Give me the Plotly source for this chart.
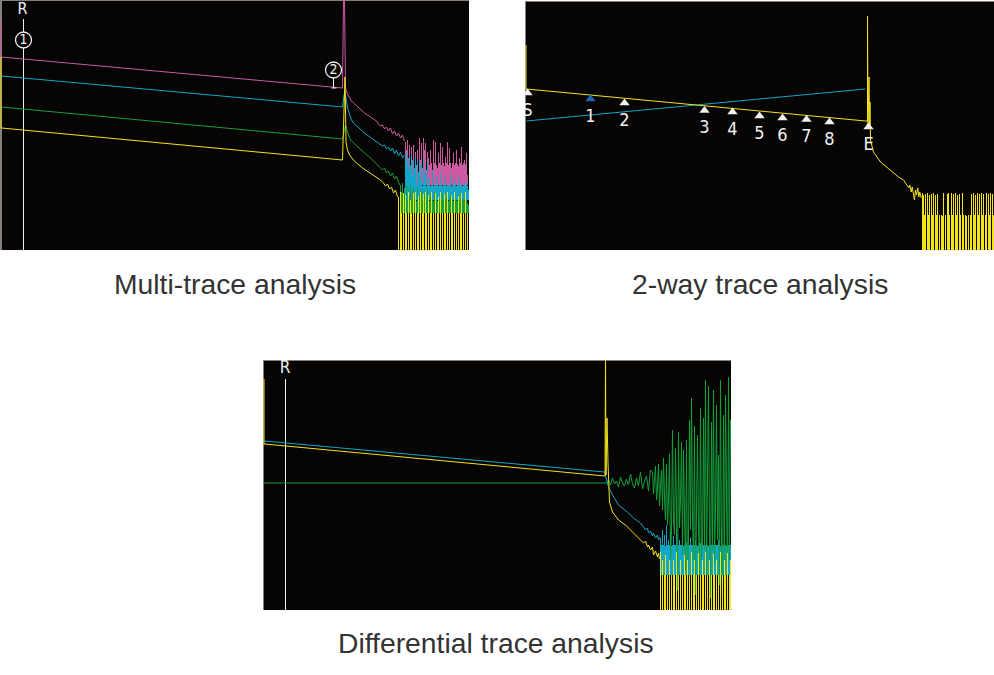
import plotly.graph_objects as go

# ---------------- colours ----------------
BG = "#070404"
PINK = "#cc5aa0"
CYAN = "#12a6c8"
GREEN = "#14a03c"
YELLOW = "#f2e41c"
WHITE = "#f0f0f0"
BLUE = "#1e64b4"
GRAY = "#85807a"
CAPTION = "#333333"
LBL_FONT = "Liberation Sans Narrow, DejaVu Sans Condensed, Arial Narrow, sans-serif"

# ================= Panel 1 : Multi-trace analysis =================
# x = distance (sample), y = level (screen units, increasing downward)
p1_pink_x = [0.5, 0.5, 1, 342, 343, 344, 345, 347, 349, 351, 353, 355, 358, 361, 364, 367, 370, 373, 376, 378, 380, 382, 384, 386, 388, 390, 392, 394, 396, 398, 400, 402, 404]
p1_pink_y = [19, 57, 57, 88, 0, 0, 88, 94, 98, 101, 103, 105, 108, 111, 113, 115, 117, 119, 121, 124, 126, 125, 129, 127, 131, 128, 134, 131, 136, 133, 138, 135, 141]
p1_cyan_x = [1, 342, 344, 345, 347, 349, 351, 353, 356, 359, 362, 365, 368, 371, 374, 377, 380, 382, 384, 386, 388, 390, 392, 394, 396, 398, 400, 402, 404]
p1_cyan_y = [76, 107, 92, 95, 108, 115, 120, 123, 126, 129, 131, 134, 136, 138, 140, 142, 144, 146, 145, 149, 147, 151, 148, 154, 150, 156, 152, 158, 155]
p1_green_x = [1, 342, 345, 347, 349, 351, 353, 356, 359, 362, 365, 368, 371, 374, 377, 380, 382, 384, 386, 388, 390, 392, 394, 396, 398, 399]
p1_green_y = [107, 139, 125, 133, 138, 141, 143, 146, 149, 152, 154, 156, 159, 161, 164, 167, 170, 168, 173, 171, 176, 173, 179, 176, 182, 185]
p1_yellow_x = [0.5, 0.5, 1, 342, 344.5, 345.5, 347, 349, 351, 353, 356, 359, 362, 365, 368, 371, 374, 377, 380, 383, 385, 387, 389, 391, 393, 395, 397]
p1_yellow_y = [57, 128, 128, 160, 77, 142, 150, 155, 158, 160, 163, 166, 168, 170, 172, 174, 176, 178, 180, 183, 186, 184, 189, 187, 193, 190, 197]

# noise region: peak value per sample, bars down to the noise floor
p1_pink_noise_start, p1_pink_floor = 405, 185
p1_pink_noise = [142, 150, 140, 158, 145, 170, 147, 160, 145, 175,
                 152, 165, 150, 172, 138, 160, 143, 168, 138, 150,
                 143, 170, 152, 158, 165, 150, 163, 172, 140, 163,
                 142, 165, 168, 153, 163, 143, 165, 147, 163, 166,
                 157, 163, 142, 165, 148, 163, 168, 163, 153, 165,
                 163, 150, 164, 166, 158, 163, 147, 165, 163, 160,
                 164, 153, 175, 185]
p1_cyan_noise_start, p1_cyan_floor = 405, 200
p1_cyan_noise = [155, 162, 152, 170, 158, 165, 155, 175, 160, 168,
                 157, 185, 162, 172, 160, 180, 165, 186, 158, 175,
                 170, 186, 163, 185, 178, 186, 185, 170, 186, 185,
                 185, 176, 185, 186, 185, 172, 185, 186, 185, 185,
                 178, 186, 185, 185, 185, 174, 186, 185, 185, 180,
                 185, 186, 185, 185, 176, 185, 185, 186, 185, 185,
                 185, 180, 186, 190]
p1_green_noise_start, p1_green_floor = 400, 213
p1_green_noise = [185, 192, 183, 195, 188,
                  198, 185, 200, 190, 196, 186, 200, 193, 188, 200,
                  195, 201, 187, 200, 196, 201, 190, 200, 200, 194,
                  201, 200, 188, 200, 201, 196, 200, 200, 201, 192,
                  200, 200, 201, 197, 200, 201, 200, 193, 200, 201,
                  200, 198, 200, 201, 200, 195, 200, 200, 201, 197,
                  200, 200, 201, 194, 200, 200, 201, 199, 200, 200,
                  201, 200, 203, 205]
p1_yellow_noise_start, p1_yellow_floor = 398, 250
p1_yellow_noise = [197, 250,
                   192, 213, 250, 193, 250, 195, 213, 250, 192, 250,
                   200, 213, 250, 193, 250, 192, 250, 213, 196, 250,
                   192, 250, 213, 194, 250, 192, 213, 250, 195, 250,
                   213, 192, 250, 213, 250, 193, 250, 213, 197, 250,
                   192, 250, 213, 250, 194, 213, 250, 192, 250, 213,
                   250, 195, 213, 250, 192, 250, 213, 250, 196, 250,
                   213, 193, 250, 213, 250, 192, 250, 213, 250]
p1_cursor_x, p1_cursor_top = 23, 19
p1_markers_x = [23, 333]
p1_markers_y = [40, 70]
p1_markers_lbl = ["1", "2"]
p1_pointer_x = [333, 333, None, 331, 336]
p1_pointer_y = [77, 88, None, 88, 88]

# ================= Panel 2 : 2-way trace analysis =================
p2_yellow_x = [0.5, 0.5, 1, 340, 342, 342, 342.5, 343.5, 344, 344.5, 345, 348, 355, 362, 368, 373, 378,
               381.7, 383.3, 384.3, 385.7, 386.7, 387.7, 389, 390, 391, 392.3, 393.3, 394.3, 395.7]
p2_yellow_y = [45, 89, 89, 121, 121, 16, 125, 77, 125, 102, 140, 152, 162, 168, 173, 177, 180,
               185, 188, 185, 192, 187, 193, 200, 190, 195, 188, 197, 192, 198]
p2_cyan_x = [1, 340]
p2_cyan_y = [121, 89]
p2_yellow_noise_start, p2_yellow_floor = 397, 250
p2_yellow_noise = [193, 195, 215, 194, 250, 193, 215, 195, 250, 194,
                   215, 193, 250, 195, 215, 194, 250, 215, 250, 215,
                   216, 193, 250, 215, 250, 194, 193, 215, 250, 193,
                   215, 194, 250, 193, 215, 195, 250, 194, 215, 250,
                   193, 215, 250, 215, 216, 250, 215, 250, 215, 194,
                   250, 193, 215, 195, 250, 193, 215, 194, 250, 193,
                   215, 194, 250, 215, 193, 250, 194, 215, 193, 250,
                   194, 215]
p2_event_x = [2, 65, 99, 179, 207, 234, 257, 281, 304, 343]
p2_event_y = [93, 99, 103, 110.5, 112, 116, 118, 119.5, 122, 127]
p2_event_lbl = ["S", "1", "2", "3", "4", "5", "6", "7", "8", "E"]
p2_event_col = [WHITE, BLUE, WHITE, WHITE, WHITE, WHITE, WHITE, WHITE, WHITE, WHITE]

# ================= Panel 3 : Differential trace analysis =================
p3_cyan_x = [1, 341, 345, 349, 355, 360, 365, 370, 375, 377, 380, 382, 384, 385, 387, 389, 390, 392, 394, 395, 396]
p3_cyan_y = [81, 112, 127, 135, 145, 149, 153, 158, 162, 163, 167, 170, 168, 173, 171, 176, 173, 178, 175, 180, 177]
p3_yellow_x = [0.5, 0.5, 1, 341.5, 342, 342.5, 343.5, 344.5, 346, 349, 352, 355, 359, 362, 366, 369, 372, 375,
               377, 380, 382, 384, 385, 387, 389, 390, 392, 394, 395, 396]
p3_yellow_y = [19, 84, 84, 116, 0, 115, 58, 103, 142, 152, 156, 160, 163, 165, 169, 172, 175, 178,
               179, 183, 181, 187, 185, 190, 187, 195, 191, 197, 193, 199]
p3_green_line_x = [0, 342]
p3_green_line_y = [123, 123]
# differential trace: every 2nd sample near the event, then every sample
p3_green_diff_a_start, p3_green_diff_a_step = 343, 2
p3_green_diff_a = [123, 120, 125, 118, 124, 121, 127, 117, 123, 126, 119, 125,
                   114, 124, 128, 118, 126, 112, 129, 121, 116, 131, 110]
p3_green_diff_b_start = 389
p3_green_diff_b = [112, 134, 118, 106, 140, 128, 104, 146, 125, 110,
                   150, 98, 138, 160, 104, 165, 140, 94, 200, 170,
                   70, 160, 175, 88, 150, 230, 72, 168, 140, 82,
                   195, 90, 155, 210, 80, 225, 180, 60, 170, 38,
                   160, 200, 66, 235, 150, 75, 170, 215, 48, 200,
                   185, 58, 190, 20, 215, 120, 26, 175, 238, 62,
                   190, 30, 205, 150, 45, 180, 95, 225, 20, 195,
                   240, 55, 210, 35, 185, 228, 17, 200, 60]
p3_cyan_noise_start, p3_cyan_floor = 397, 215
p3_cyan_noise = [178, 185, 170, 185, 175, 186, 165, 185, 180, 185,
                 172, 186, 185, 176, 185, 185, 168, 186, 185, 180,
                 185, 185, 175, 186, 185, 185, 182, 185, 186, 185,
                 178, 185, 185, 186, 185, 180, 185, 186, 185, 185,
                 183, 185, 186, 185, 185, 185, 179, 185, 186, 185,
                 185, 185, 182, 185, 186, 185, 185, 185, 180, 185,
                 186, 185, 185, 185, 183, 185, 186, 185, 185, 185,
                 185]
p3_yellow_noise_start, p3_yellow_floor = 397, 250
p3_yellow_noise = [192, 250, 200, 250, 215, 195, 250, 215, 250, 200,
                   250, 215, 250, 200, 215, 250, 192, 250, 215, 250,
                   200, 250, 215, 250, 195, 215, 250, 200, 250, 215,
                   250, 192, 250, 215, 200, 250, 215, 250, 193, 250,
                   215, 250, 200, 215, 250, 192, 250, 215, 250, 200,
                   250, 215, 250, 194, 215, 250, 200, 250, 215, 250,
                   192, 250, 215, 250, 200, 215, 250, 193, 250, 215,
                   200]
p3_cursor_x, p3_cursor_top = 22, 19

captions = ["Multi-trace analysis", "2-way trace analysis", "Differential trace analysis"]

LABEL_DY = 18


def bars(start, tops, floor):
    xs, ys = [], []
    for i, t in enumerate(tops):
        if t < floor:
            xs += [start + i, start + i, None]
            ys += [t, floor, None]
    return xs, ys


fig = go.Figure()


def line(x, y, color, ax, width=1.0):
    fig.add_trace(go.Scatter(x=x, y=y, mode="lines", line=dict(color=color, width=width),
                             xaxis=ax[0], yaxis=ax[1], hoverinfo="skip"))


def noise(start, tops, floor, color, ax):
    bx, by = bars(start, tops, floor)
    line(bx, by, color, ax)


A1, A2, A3 = ("x", "y"), ("x2", "y2"), ("x3", "y3")

# ---- panel 1 ----
line([p1_cursor_x, p1_cursor_x], [p1_cursor_top, 250], WHITE, A1)
line(p1_pink_x, p1_pink_y, PINK, A1)
noise(p1_pink_noise_start, p1_pink_noise, p1_pink_floor, PINK, A1)
line(p1_cyan_x, p1_cyan_y, CYAN, A1)
noise(p1_cyan_noise_start, p1_cyan_noise, p1_cyan_floor, CYAN, A1)
line(p1_green_x, p1_green_y, GREEN, A1)
noise(p1_green_noise_start, p1_green_noise, p1_green_floor, GREEN, A1)
line(p1_yellow_x, p1_yellow_y, YELLOW, A1)
noise(p1_yellow_noise_start, p1_yellow_noise, p1_yellow_floor, YELLOW, A1)
line(p1_pointer_x, p1_pointer_y, WHITE, A1)
fig.add_trace(go.Scatter(x=p1_markers_x, y=p1_markers_y, mode="markers+text", text=p1_markers_lbl,
                         textposition="middle center",
                         textfont=dict(family=LBL_FONT, size=14, color=WHITE),
                         marker=dict(symbol="circle", size=16, color=BG, line=dict(color=WHITE, width=1.3)),
                         xaxis="x", yaxis="y", hoverinfo="skip"))
fig.add_trace(go.Scatter(x=[p1_cursor_x - 1], y=[10], mode="text", text=["R"], cliponaxis=False,
                         textfont=dict(family=LBL_FONT, size=16, color=WHITE),
                         xaxis="x", yaxis="y", hoverinfo="skip"))

# ---- panel 2 ----
line(p2_cyan_x, p2_cyan_y, CYAN, A2)
line(p2_yellow_x, p2_yellow_y, YELLOW, A2)
noise(p2_yellow_noise_start, p2_yellow_noise, p2_yellow_floor, YELLOW, A2)
fig.add_trace(go.Scatter(x=p2_event_x, y=p2_event_y, mode="markers",
                         marker=dict(symbol="triangle-up", size=9, color=p2_event_col, line=dict(width=0)),
                         xaxis="x2", yaxis="y2", hoverinfo="skip"))
fig.add_trace(go.Scatter(x=p2_event_x, y=[v + LABEL_DY for v in p2_event_y], mode="text", text=p2_event_lbl,
                         textfont=dict(family=LBL_FONT, size=18, color=WHITE),
                         xaxis="x2", yaxis="y2", hoverinfo="skip"))

# ---- panel 3 ----
line([p3_cursor_x, p3_cursor_x], [p3_cursor_top, 250], WHITE, A3)
line(p3_cyan_x, p3_cyan_y, CYAN, A3)
noise(p3_cyan_noise_start, p3_cyan_noise, p3_cyan_floor, CYAN, A3)
g_x = (p3_green_line_x
       + [p3_green_diff_a_start + p3_green_diff_a_step * i for i in range(len(p3_green_diff_a))]
       + [p3_green_diff_b_start + i for i in range(len(p3_green_diff_b))])
g_y = p3_green_line_y + p3_green_diff_a + p3_green_diff_b
line(g_x, g_y, GREEN, A3)
line(p3_yellow_x, p3_yellow_y, YELLOW, A3)
noise(p3_yellow_noise_start, p3_yellow_noise, p3_yellow_floor, YELLOW, A3)
fig.add_trace(go.Scatter(x=[p3_cursor_x - 0.5], y=[9], mode="text", text=["R"], cliponaxis=False,
                         textfont=dict(family=LBL_FONT, size=17, color=WHITE),
                         xaxis="x3", yaxis="y3", hoverinfo="skip"))

W, H = 994, 675


def ax(domain, rng):
    return dict(domain=domain, range=rng, visible=False, fixedrange=True)


# panel frames (pixel boxes of the screenshots)
panels = [  # left, top, right, bottom, left border width
    (0, 0, 469, 250, 2),
    (525, 1, 994, 250, 1),
    (263, 360, 731, 610, 1),
]
yranges = [[250, 0], [250, 1], [250, 0]]
layout_axes = {}
shapes = []
for i, (l, t, r, b, lw) in enumerate(panels):
    sfx = "" if i == 0 else str(i + 1)
    layout_axes["xaxis" + sfx] = ax([l / W, r / W], [-0.5, r - l - 0.5])
    layout_axes["yaxis" + sfx] = ax([(H - b) / H, (H - t) / H], yranges[i])
    shapes.append(dict(type="rect", xref="x%s domain" % sfx, yref="y%s domain" % sfx,
                       xsizemode="pixel", xanchor=0, x0=0, x1=lw, y0=0, y1=1,
                       fillcolor=GRAY, line=dict(width=0), layer="below"))
    shapes.append(dict(type="rect", xref="x%s domain" % sfx, yref="y%s domain" % sfx,
                       ysizemode="pixel", yanchor=1, y0=-1, y1=0, x0=0, x1=1,
                       fillcolor=GRAY, line=dict(width=0), layer="below"))

cap_pos = [(234.5, 284), (759.5, 284), (496, 643)]
annotations = [dict(text=c, x=cx / W, y=1 - cy / H, xref="paper", yref="paper",
                    xanchor="center", yanchor="middle", showarrow=False,
                    font=dict(family="Liberation Sans, Arial, sans-serif", size=28.3, color=CAPTION))
               for c, (cx, cy) in zip(captions, cap_pos)]

fig.update_layout(width=W, height=H, margin=dict(l=0, r=0, t=0, b=0),
                  paper_bgcolor="white", plot_bgcolor=BG, showlegend=False,
                  shapes=shapes, annotations=annotations, **layout_axes)

fig.write_html("out.html", config={"displayModeBar": False})
